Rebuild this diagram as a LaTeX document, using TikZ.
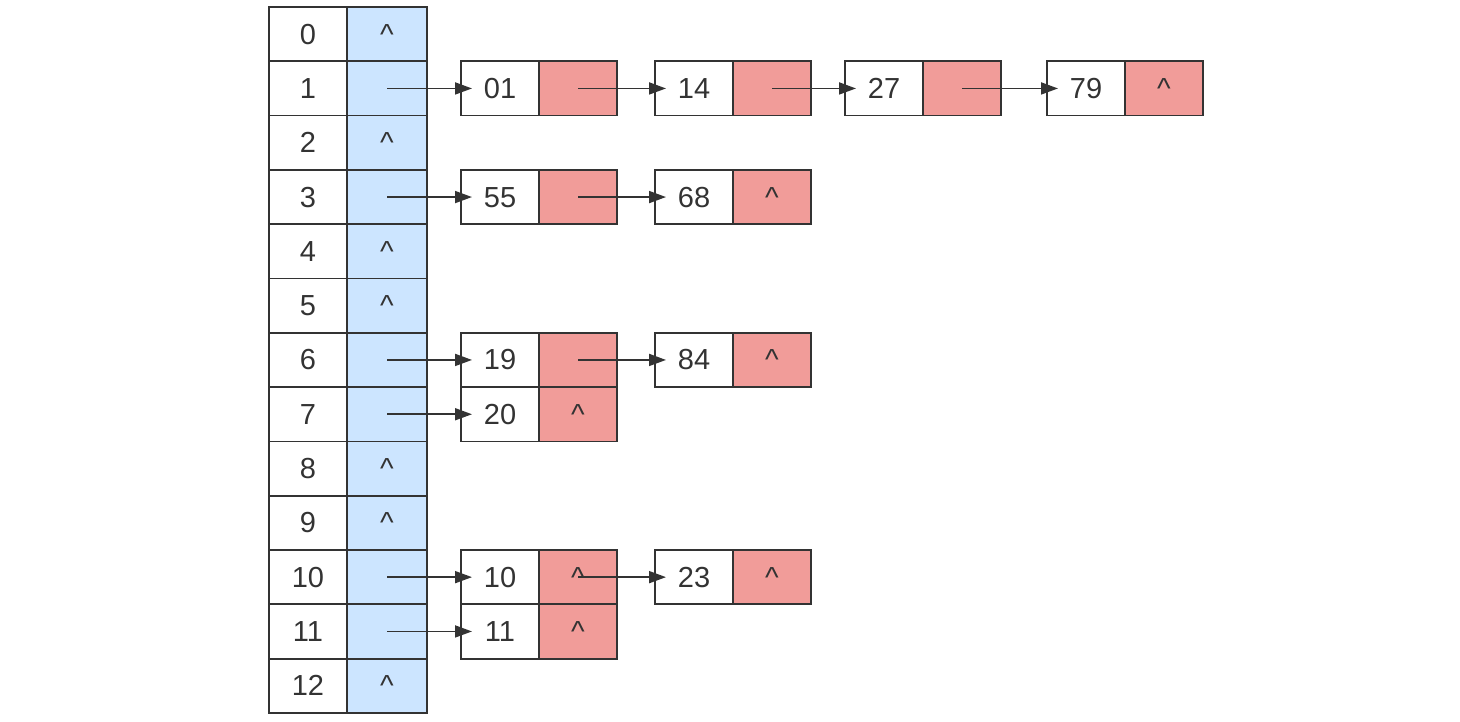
\documentclass[tikz,border=0pt]{standalone}
\usepackage{fontspec}
\setmainfont{Liberation Sans}
\usetikzlibrary{arrows.meta, positioning}
\definecolor{slotblue}{HTML}{CCE5FF}
\definecolor{ptrred}{HTML}{F19C99}
\definecolor{edgegray}{HTML}{333333}
\newcommand{\emptyptr}{\textasciicircum}
\tikzset{
  cell/.style     = {rectangle, draw=edgegray, line width=1.8pt, outer sep=0pt, inner sep=0pt,
                     minimum height=54.3pt, text height=20pt, text depth=0pt,
                     font=\fontsize{29}{32}\selectfont, text=edgegray},
  keycell/.style  = {cell, minimum width=78pt},
  slotcell/.style = {cell, fill=slotblue, minimum width=80pt},
  datacell/.style = {cell, minimum width=78pt},
  nextcell/.style = {cell, fill=ptrred, minimum width=78pt},
  arrow/.style    = {line width=1.8pt, draw=edgegray, -{Triangle[length=17pt,width=12pt]}, shorten >=-11pt}
}

\begin{document}
\begin{tikzpicture}[x=1pt, y=1pt]
  \useasboundingbox (0,0) rectangle (1460,-722);

  % Hash table
  \foreach \i/\s in {0/\emptyptr, 1/{}, 2/\emptyptr, 3/{}, 4/\emptyptr, 5/\emptyptr, 6/{},
                     7/{}, 8/\emptyptr, 9/\emptyptr, 10/{}, 11/{}, 12/\emptyptr} {
    \node (k\i) [keycell] at (308, {-34.15-54.3*\i}) {\i};
    \node (s\i) [slotcell, right=0pt of k\i] {\s};
  }

  % Bucket 1
  \node (d01) [datacell, right=34pt of s1]  {01};
  \node (p01) [nextcell, right=0pt of d01]  {};
  \node (d14) [datacell, right=38pt of p01] {14};
  \node (p14) [nextcell, right=0pt of d14]  {};
  \node (d27) [datacell, right=34pt of p14] {27};
  \node (p27) [nextcell, right=0pt of d27]  {};
  \node (d79) [datacell, right=46pt of p27] {79};
  \node (p79) [nextcell, right=0pt of d79]  {\emptyptr};

  % Bucket 3
  \node (d55) [datacell, right=34pt of s3]  {55};
  \node (p55) [nextcell, right=0pt of d55]  {};
  \node (d68) [datacell, right=38pt of p55] {68};
  \node (p68) [nextcell, right=0pt of d68]  {\emptyptr};

  % Buckets 6 and 7
  \node (d19) [datacell, right=34pt of s6]  {19};
  \node (p19) [nextcell, right=0pt of d19]  {};
  \node (d84) [datacell, right=38pt of p19] {84};
  \node (p84) [nextcell, right=0pt of d84]  {\emptyptr};
  \node (d20) [datacell, right=34pt of s7]  {20};
  \node (p20) [nextcell, right=0pt of d20]  {\emptyptr};

  % Buckets 10 and 11
  \node (d10) [datacell, right=34pt of s10] {10};
  \node (p10) [nextcell, right=0pt of d10]  {\emptyptr};
  \node (d23) [datacell, right=38pt of p10] {23};
  \node (p23) [nextcell, right=0pt of d23]  {\emptyptr};
  \node (d11) [datacell, right=34pt of s11] {11};
  \node (p11) [nextcell, right=0pt of d11]  {\emptyptr};

  % Pointers
  \draw[arrow] (s1.center)  -- (d01.west);
  \draw[arrow] (p01.center) -- (d14.west);
  \draw[arrow] (p14.center) -- (d27.west);
  \draw[arrow] (p27.center) -- (d79.west);
  \draw[arrow] (s3.center)  -- (d55.west);
  \draw[arrow] (p55.center) -- (d68.west);
  \draw[arrow] (s6.center)  -- (d19.west);
  \draw[arrow] (p19.center) -- (d84.west);
  \draw[arrow] (s7.center)  -- (d20.west);
  \draw[arrow] (s10.center) -- (d10.west);
  \draw[arrow] (p10.center) -- (d23.west);
  \draw[arrow] (s11.center) -- (d11.west);
\end{tikzpicture}
\end{document}
